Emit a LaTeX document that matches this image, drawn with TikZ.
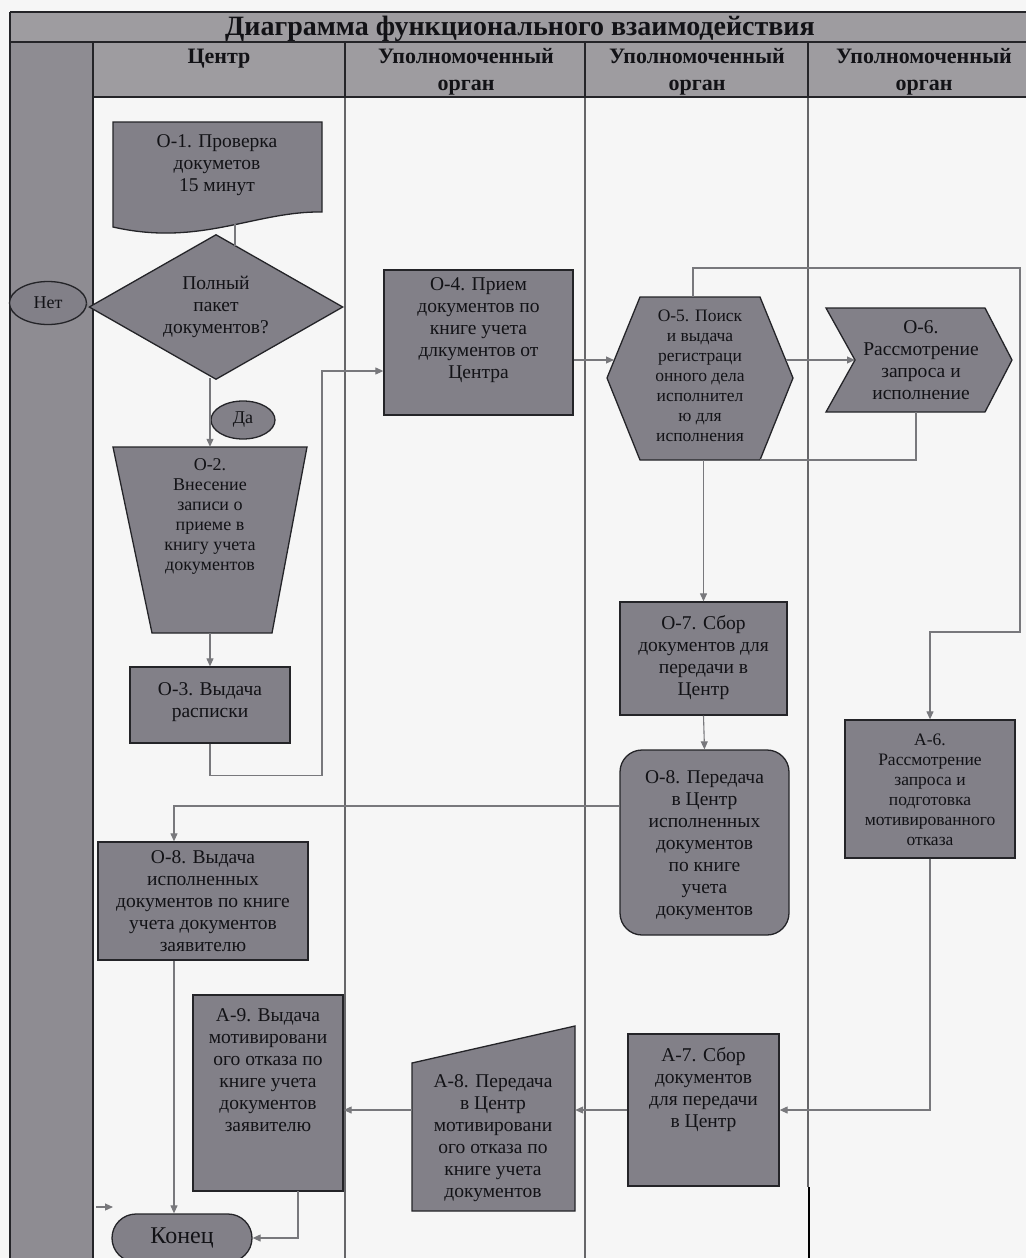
\documentclass[tikz,border=0pt]{standalone}
\usepackage{fontspec}
\setmainfont{Liberation Serif}
\usetikzlibrary{arrows.meta,shapes.geometric,calc}
\definecolor{paper}{RGB}{246,246,246}
\definecolor{bandgray}{RGB}{158,156,160}
\definecolor{colgray}{RGB}{142,140,146}
\definecolor{boxgray}{RGB}{130,128,136}
\definecolor{edgec}{RGB}{36,36,40}
\definecolor{wirec}{RGB}{120,120,124}
\definecolor{inkc}{RGB}{18,18,22}
\begin{document}
\begin{tikzpicture}[x=1pt,y=-1pt,
  cshape/.style={draw=edgec,fill=boxgray,line width=1.3pt,line join=miter},
  cbox/.style={cshape,inner sep=0pt},
  cframe/.style={draw=none,inner sep=0pt},
  ctext/.style={text=inkc,align=center,inner sep=0pt,font=\fontsize{19.5}{22}\selectfont},
  csmall/.style={ctext,font=\fontsize{17.5}{20}\selectfont},
  cmid/.style={ctext,font=\fontsize{18}{20}\selectfont},
  chead/.style={text=inkc,align=center,inner sep=0pt,font=\bfseries\fontsize{22}{27}\selectfont},
  cwire/.style={draw=wirec,line width=1.1pt},
  carrow/.style={cwire,-{Triangle[length=8pt,width=7pt]}},
  clane/.style={draw=wirec!85!black,line width=1.1pt},
  crule/.style={draw=edgec,line width=1.6pt},
]
% page and bounding box
\fill[paper] (0,0) rectangle (1026,1258);
\useasboundingbox (0,0) rectangle (1026,1258);

% title band, header row and the left margin column
\fill[bandgray] (10,12) rectangle (1026,42);
\fill[bandgray] (93,42) rectangle (1026,97);
\fill[colgray] (10,42) rectangle (93,1258);

% swimlane separators
\draw[clane] (345,97) -- (345,1258);
\draw[clane] (585,97) -- (585,1258);
\draw[clane] (808,97) -- (808,1187);
\draw[crule] (345,42) -- (345,97);
\draw[crule] (585,42) -- (585,97);
\draw[crule] (808,42) -- (808,97);
\draw[crule] (10,12) -- (1026,12);
\draw[crule] (10,12) -- (10,1258);
\draw[crule] (10,42) -- (1026,42);
\draw[crule] (93,97) -- (1026,97);
\draw[crule] (93,42) -- (93,1258);
\draw[black,line width=2.6pt] (809,1187) -- (809,1258);

% headings
\node[chead,font=\bfseries\fontsize{28}{30}\selectfont] (title) at (520,29) {Диаграмма функционального взаимодействия};
\node[chead] (hd1) at (219,59) {Центр};
\node[chead] (hd2) at (466,72) {Уполномоченный\\орган};
\node[chead] (hd3) at (697,72) {Уполномоченный\\орган};
\node[chead] (hd4) at (924,72) {Уполномоченный\\орган};

% ---- lane "Центр" ----
% O-1: document shape with a wavy lower edge
\node[cframe,minimum width=209pt,minimum height=114pt] (o1) at (217.5,179) {};
\filldraw[cshape] (113,122) -- (322,122) -- (322,212)
  .. controls (255,211) and (200,247) .. (113,227) -- cycle;
\node[ctext] (o1t) at (217,165) {О-1. Проверка\\докуметов\\15 минут};

% decision
\node[cshape,diamond,aspect=1.75,minimum width=254pt,minimum height=145pt,inner sep=0pt,
  ctext] (dia) at (216,307) {Полный\\пакет\\документов?};
\node[cshape,ellipse,minimum width=77pt,minimum height=43pt,inner sep=0pt,ctext,
  font=\fontsize{18}{20}\selectfont] (net) at (48,303) {Нет};
\node[cshape,ellipse,minimum width=64pt,minimum height=38pt,inner sep=0pt,ctext,
  font=\fontsize{18}{20}\selectfont] (da) at (243,420) {Да};

% O-2: inverted trapezoid
\node[cframe,minimum width=194pt,minimum height=186pt] (o2) at (210,540) {};
\filldraw[cshape] (113,447) -- (307,447) -- (272,633) -- (152,633) -- cycle;
\node[cmid] (o2t) at (210,516) {О-2.\\Внесение\\записи о\\приеме в\\книгу учета\\документов};

% O-3
\node[cbox,minimum width=160pt,minimum height=76pt] (o3) at (210,705) {};
\node[ctext] (o3t) at (210,702) {О-3. Выдача\\расписки};

% O-8 (issue to the applicant)
\node[cbox,minimum width=210pt,minimum height=118pt] (o8z) at (203,901) {};
\node[ctext] (o8zt) at (203,901) {О-8. Выдача\\исполненных\\документов по книге\\учета документов\\заявителю};

% A-9
\node[cbox,minimum width=150pt,minimum height=196pt] (a9) at (268,1093) {};
\node[ctext] (a9t) at (268,1070) {А-9. Выдача\\мотивировани\\ого отказа по\\книге учета\\документов\\заявителю};

% terminator
\node[cshape,rounded corners=24pt,minimum width=140pt,minimum height=48pt,inner sep=0pt,
  ctext,font=\fontsize{24}{26}\selectfont] (fin) at (182,1238) {Конец};

% ---- lane 2 ----
\node[cbox,minimum width=189pt,minimum height=145pt] (o4) at (478.5,342.5) {};
\node[ctext] (o4t) at (478.5,330) {О-4. Прием\\документов по\\книге учета\\длкументов от\\Центра};

% A-8: manual input shape
\node[cframe,minimum width=163pt,minimum height=185pt] (a8) at (493.5,1118.5) {};
\filldraw[cshape] (412,1063) -- (575,1026) -- (575,1211) -- (412,1211) -- cycle;
\node[ctext] (a8t) at (493,1138) {А-8. Передача\\в Центр\\мотивировани\\ого отказа по\\книге учета\\документов};

% ---- lane 3 ----
% O-5: hexagon
\node[cframe,minimum width=186pt,minimum height=163pt] (o5) at (700,378.5) {};
\filldraw[cshape] (640,297) -- (760,297) -- (793,378) -- (760,460) -- (640,460) -- (607,378) -- cycle;
\node[csmall] (o5t) at (700,376) {О-5. Поиск\\и выдача\\регистраци\\онного дела\\исполнител\\ю для\\исполнения};

\node[cbox,minimum width=167pt,minimum height=113pt] (o7) at (703.5,658.5) {};
\node[ctext] (o7t) at (703.5,658) {О-7. Сбор\\документов для\\передачи в\\Центр};

\node[cbox,rounded corners=22pt,minimum width=169pt,minimum height=185pt] (o8) at (704.5,842.5) {};
\node[ctext] (o8t) at (704.5,845) {О-8. Передача\\в Центр\\исполненных\\документов\\по книге\\учета\\документов};

\node[cbox,minimum width=151pt,minimum height=152pt] (a7) at (703.5,1110) {};
\node[ctext] (a7t) at (703.5,1090) {А-7. Сбор\\документов\\для передачи\\в Центр};

% ---- lane 4 ----
% O-6: chevron
\node[cframe,minimum width=186pt,minimum height=104pt] (o6) at (919,360) {};
\filldraw[cshape] (826,308) -- (985,308) -- (1012,360) -- (985,412) -- (826,412) -- (855,360) -- cycle;
\node[ctext] (o6t) at (921,360) {О-6.\\Рассмотрение\\запроса и\\исполнение};

\node[cbox,minimum width=170pt,minimum height=138pt] (a6) at (930,789) {};
\node[csmall] (a6t) at (930,790) {А-6.\\Рассмотрение\\запроса и\\подготовка\\мотивированного\\отказа};

% ---- connector points ----
\coordinate (o1out) at (235,224);
\coordinate (dtop) at (235,246);
\coordinate (dbot) at (210,378);
\coordinate (j1) at (322,371);
\coordinate (r1) at (0,360);
\coordinate (o5in) at (614,360);
\coordinate (o5outr) at (786,360);
\coordinate (o6in) at (855,360);
\coordinate (o6out) at (916,412);
\coordinate (o5br) at (760,460);
\coordinate (o5top) at (693,297);
\coordinate (k1) at (1020,268);
\coordinate (k2) at (1020,632);
\coordinate (j3) at (174,806);
\coordinate (a9out) at (298,1191);
\coordinate (stubA) at (96,1207);
\coordinate (stubB) at (113,1207);

% ---- connectors ----
\draw[cwire] (o1out) -- (dtop);
\draw[cwire] (net.east) -- (dia.west);
\draw[carrow] (dbot) -- (dbot |- o2.north);
\draw[carrow] (o2.south) -- (o3.north);
\draw[carrow] (o3.south) -- ++(0,32) -| (j1) -- (j1 -| o4.west);
\draw[carrow] (r1 -| o4.east) -- (o5in);
\draw[carrow] (o5outr) -- (o6in);
\draw[cwire] (o6out) |- (o5br);
\draw[carrow] (o5top) |- (k1) -- (k2) -| (a6.north);
\draw[carrow] (o7.north |- o5.south) -- (o7.north);
\draw[carrow] (o7.south) -- (o8.north);
\draw[carrow] (j3 -| o8.west) -- (j3) -- (j3 |- o8z.north);
\draw[carrow] (j3 |- o8z.south) -- (j3 |- fin.north);
\draw[carrow] (a6.south) |- (a7.east);
\draw[carrow] (a7.west) -- (a7.west -| a8.east);
\draw[carrow] (a7.west -| a8.west) -- (a7.west -| a9.east);
\draw[carrow] (a9out) |- (fin.east);
\draw[carrow] (stubA) -- (stubB);
\end{tikzpicture}
\end{document}
